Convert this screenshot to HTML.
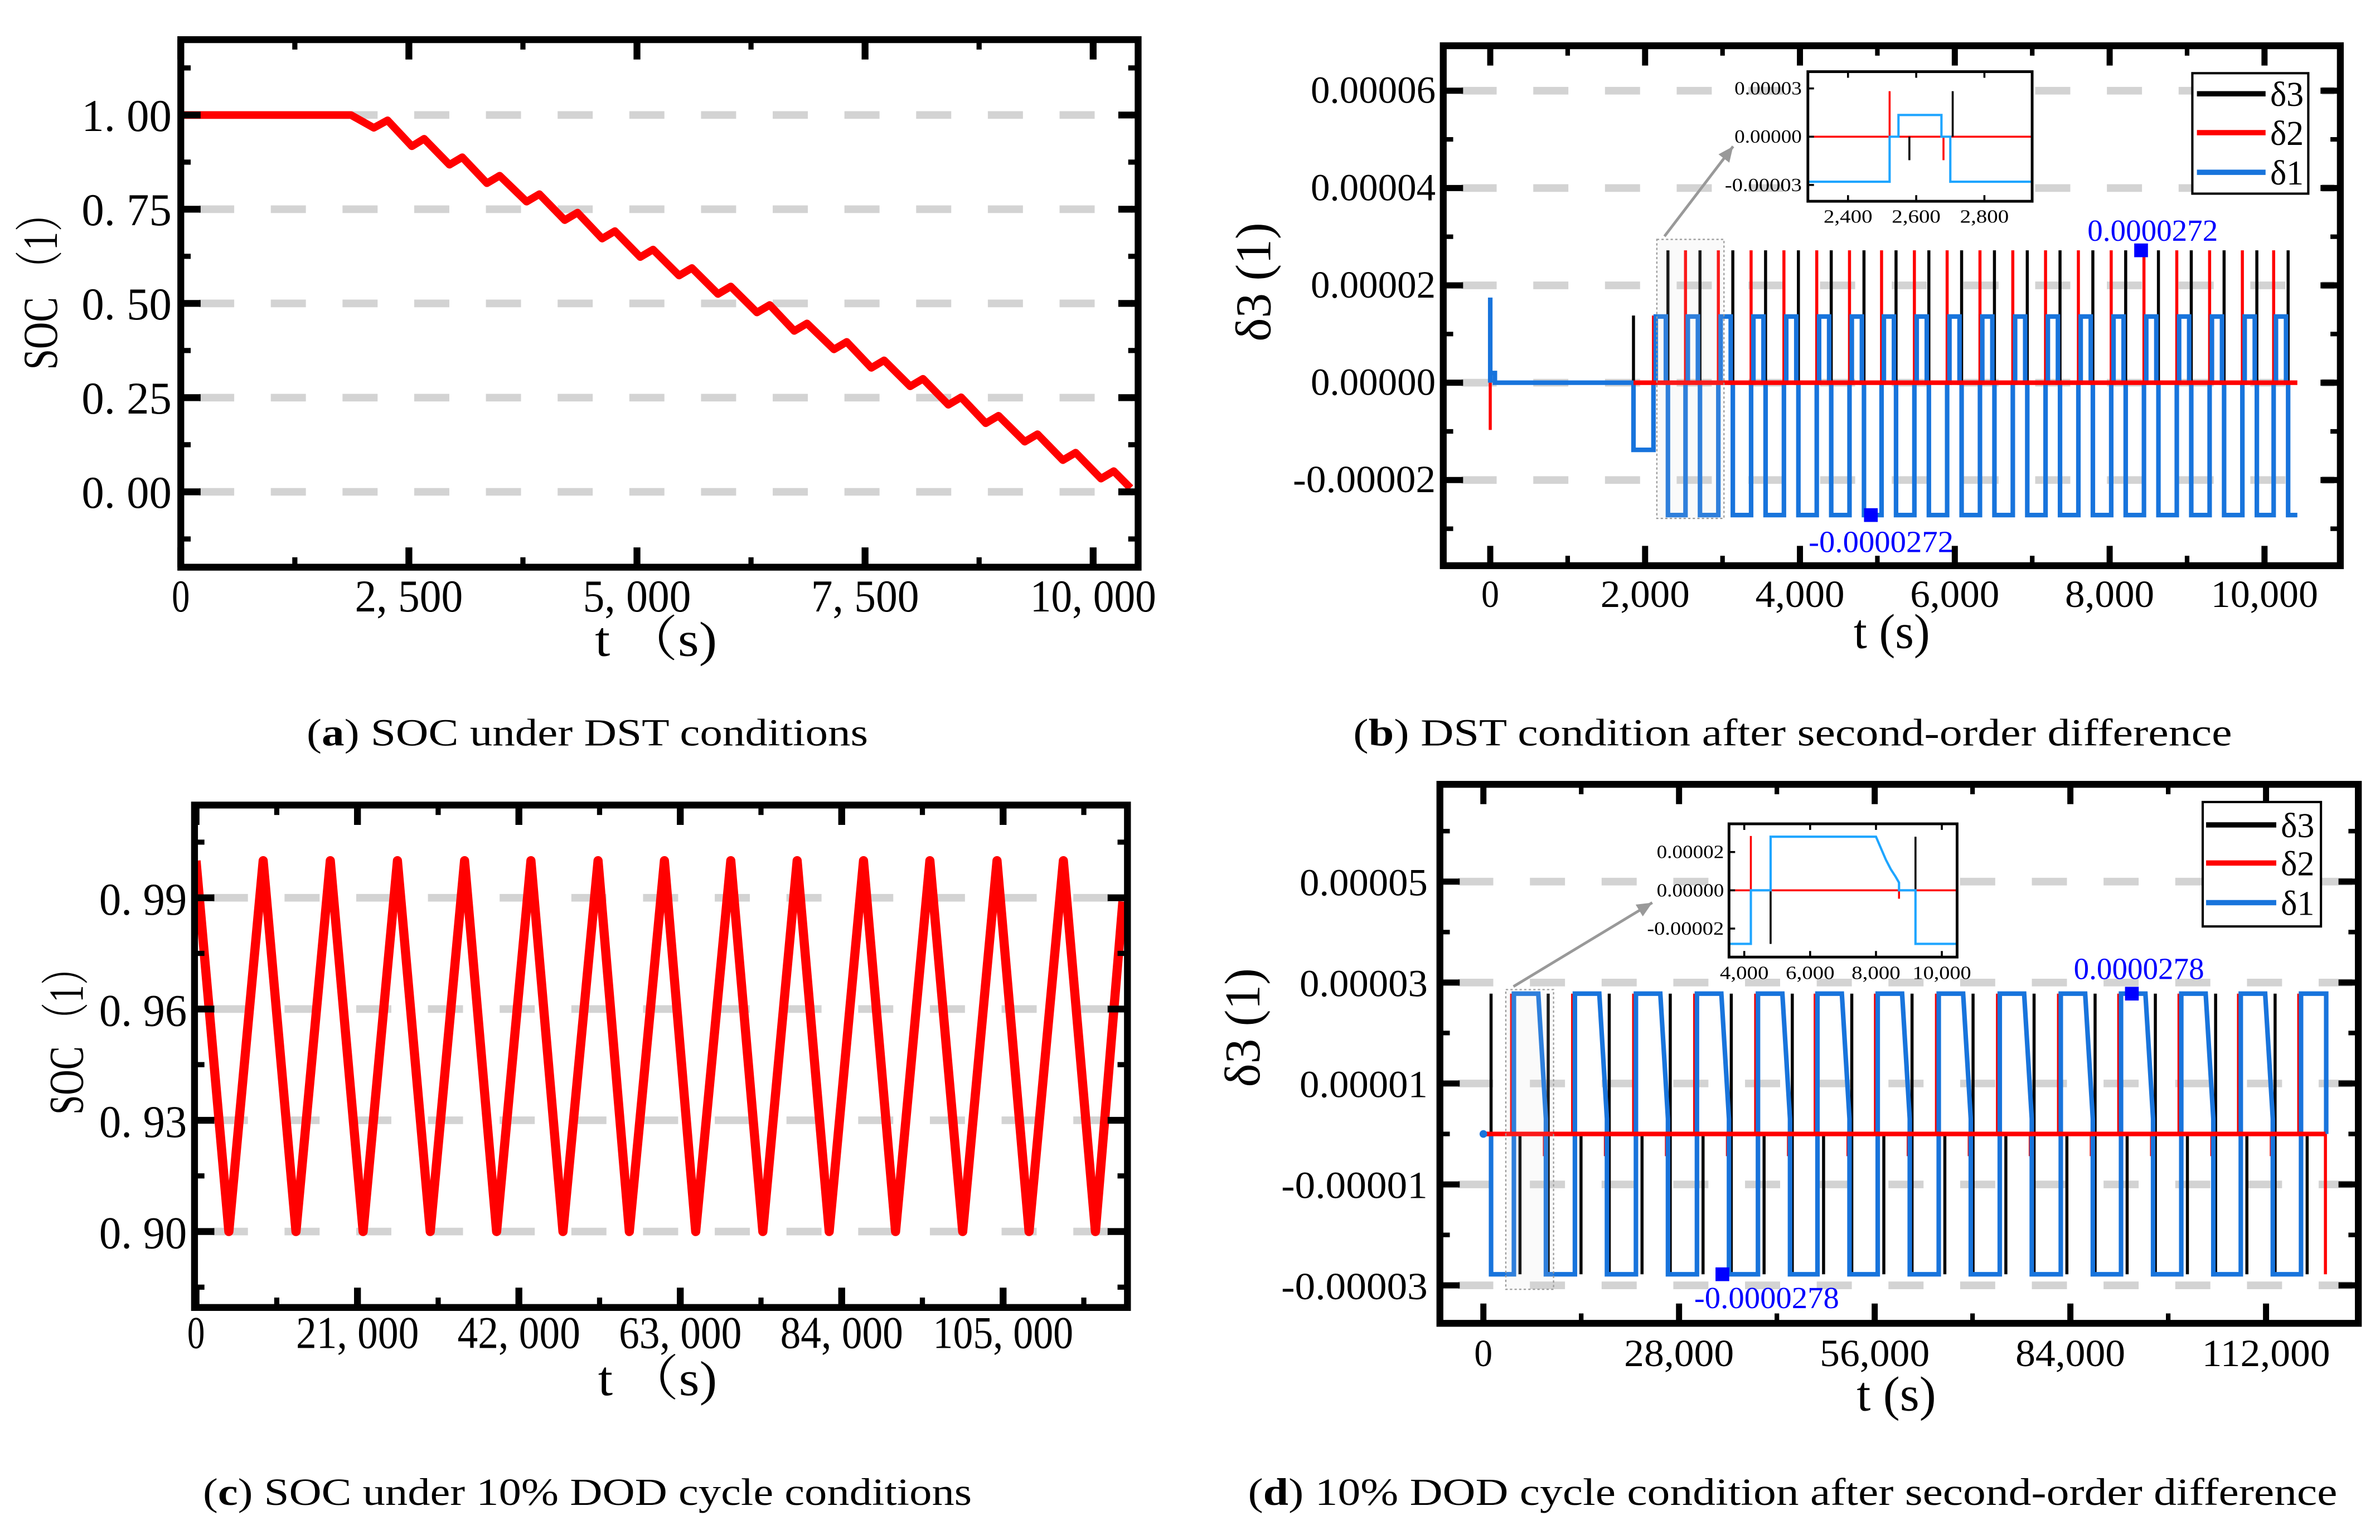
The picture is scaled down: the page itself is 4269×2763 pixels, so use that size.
<!DOCTYPE html>
<html><head><meta charset="utf-8"><style>
html,body{margin:0;padding:0;background:#fff;}
svg{display:block;}
text{font-family:"Liberation Serif","Noto Serif CJK SC",serif;white-space:pre;}
</style></head><body>
<svg id="fig" xmlns="http://www.w3.org/2000/svg" width="4269" height="2763" viewBox="0 0 1560 1010" preserveAspectRatio="none">
<rect x="0" y="0" width="1560" height="1010" fill="#fff"/>
<g id="pa"></g>
<g id="pb"></g>
<g id="pc"></g>
<g id="pd"></g>
<text x="30" y="185" transform="rotate(-90 30 185)" font-size="32" text-anchor="middle" dominant-baseline="middle" textLength="115" lengthAdjust="spacingAndGlyphs">SOC （1）</text>
<text x="430" y="430" font-size="32" text-anchor="middle" textLength="80" lengthAdjust="spacingAndGlyphs">t （s)</text>
<text x="385" y="489" font-size="25" text-anchor="middle" textLength="368" lengthAdjust="spacingAndGlyphs">(<tspan font-weight="bold">a</tspan>) SOC under DST conditions</text>
<text x="825" y="185" transform="rotate(-90 825 185)" font-size="33" text-anchor="middle" dominant-baseline="middle" textLength="78" lengthAdjust="spacingAndGlyphs">δ3 (1)</text>
<text x="1240" y="425" font-size="32" text-anchor="middle" textLength="50" lengthAdjust="spacingAndGlyphs">t (s)</text>
<text x="1175" y="489" font-size="25" text-anchor="middle" textLength="576" lengthAdjust="spacingAndGlyphs">(<tspan font-weight="bold">b</tspan>) DST condition after second-order difference</text>
<text x="47" y="677" transform="rotate(-90 47 677)" font-size="32" text-anchor="middle" dominant-baseline="middle" textLength="108" lengthAdjust="spacingAndGlyphs">SOC （1）</text>
<text x="431" y="915" font-size="32" text-anchor="middle" textLength="78" lengthAdjust="spacingAndGlyphs">t （s)</text>
<text x="385" y="987" font-size="25" text-anchor="middle" textLength="504" lengthAdjust="spacingAndGlyphs">(<tspan font-weight="bold">c</tspan>) SOC under 10% DOD cycle conditions</text>
<text x="818" y="674" transform="rotate(-90 818 674)" font-size="33" text-anchor="middle" dominant-baseline="middle" textLength="78" lengthAdjust="spacingAndGlyphs">δ3 (1)</text>
<text x="1243" y="925" font-size="32" text-anchor="middle" textLength="52" lengthAdjust="spacingAndGlyphs">t (s)</text>
<text x="1175" y="987" font-size="25" text-anchor="middle" textLength="714" lengthAdjust="spacingAndGlyphs">(<tspan font-weight="bold">d</tspan>) 10% DOD cycle condition after second-order difference</text>
</svg>
<script>
// ---------- Panel a data ----------
const a_time = [0,1865,2115,2266,2533,2667,2945,3085,3355,3495,3790,3930,4208,4348,4618,4758,5036,5176,5462,5602,5888,6028,6315,6455,6724,6864,7159,7299,7569,7709,7995,8135,8413,8553,8823,8963,9250,9390,9668,9808,10086,10226,10410];
const a_soc = [1.0,1.0,0.966,0.986,0.917,0.937,0.868,0.888,0.819,0.839,0.770,0.790,0.721,0.741,0.672,0.692,0.623,0.643,0.574,0.594,0.525,0.545,0.476,0.496,0.427,0.447,0.378,0.398,0.329,0.349,0.280,0.300,0.231,0.251,0.182,0.202,0.133,0.153,0.084,0.104,0.035,0.055,0.010];
const a_xTicks = [0,2500,5000,7500,10000];
const a_xTickLabels = ["0","2, 500","5, 000","7, 500","10, 000"];
const a_xMinor = [1250,3750,6250,8750];
const a_yTicks = [0,0.25,0.5,0.75,1.0];
const a_yTickLabels = ["0. 00","0. 25","0. 50","0. 75","1. 00"];
const a_yMinor = [-0.125,0.125,0.375,0.625,0.875,1.125];

// ---------- Panel b data (values in 1e-5) ----------
const b_preT = [0,0,0,60,60,1850,1850];
const b_preV = [0,1.75,0.2,0.2,0,0,-1.38];
const b_hiStart = [2108,2522,2946,3369,3793,4217,4640,5054,5478,5901,6325,6749,7172,7596,8020,8443,8867,9291,9714,10118];
const b_hiUp = [2138,2552,2976,3399,3823,4247,4670,5084,5508,5931,6355,6779,7202,7626,8050,8473,8897,9321,9744,10148];
const b_hiEnd = [2268,2682,3106,3529,3953,4377,4800,5214,5638,6061,6485,6909,7332,7756,8180,8603,9027,9451,9874,10278];
const b_loStart = [2295,2709,3133,3556,3980,4404,4827,5241,5665,6088,6512,6936,7359,7783,8207,8630,9054,9478,9901,10305];
const b_hiLevel = [1.36,1.36,1.36,1.36,1.36,1.36,1.36,1.36,1.36,1.36,1.36,1.36,1.36,1.36,1.36,1.36,1.36,1.36,1.36,1.36];
const b_loLevel = [-2.72,-2.72,-2.72,-2.72,-2.72,-2.72,-2.72,-2.72,-2.72,-2.72,-2.72,-2.72,-2.72,-2.72,-2.72,-2.72,-2.72,-2.72,-2.72,-2.72];
const b_endT = 10424;
const b_redTop = [1.38,2.72,2.72,2.72,2.72,2.72,2.72,2.72,2.72,2.72,2.72,2.72,2.72,2.72,2.72,2.72,2.72,2.72,2.72,2.72];
const b_blackT = [1850,2295,2709,3133,3556,3980,4404,4827,5241,5665,6088,6512,6936,7359,7783,8207,8630,9054,9478,9901,10305];
const b_blackTop = [1.38,2.72,2.72,2.72,2.72,2.72,2.72,2.72,2.72,2.72,2.72,2.72,2.72,2.72,2.72,2.72,2.72,2.72,2.72,2.72,2.72];
const b_blackBot = [0,-1.38,-1.38,-1.38,-1.38,-1.38,-1.38,-1.38,-1.38,-1.38,-1.38,-1.38,-1.38,-1.38,-1.38,-1.38,-1.38,-1.38,-1.38,-1.38,-1.38];
const b_markT = [8406,4916];
const b_markV = [2.72,-2.72];
const b_markLabels = ["0.0000272","-0.0000272"];
const b_xTicks = [0,2000,4000,6000,8000,10000];
const b_xTickLabels = ["0","2,000","4,000","6,000","8,000","10,000"];
const b_xMinor = [1000,3000,5000,7000,9000];
const b_yTicks = [-2,0,2,4,6];
const b_yTickLabels = ["-0.00002","0.00000","0.00002","0.00004","0.00006"];
const b_yMinor = [-3,-1,1,3,5];
// inset b
const bi_blueT = [2283,2522,2522,2548,2548,2674,2674,2700,2700,2941];
const bi_blueV = [-2.8,-2.8,0,0,1.35,1.35,0,0,-2.8,-2.8];
const bi_redSpikeT = [2522,2680];
const bi_redSpikeV = [2.83,-1.46];
const bi_blackSpikeT = [2580,2707];
const bi_blackSpikeV = [-1.46,2.83];
const bi_xTicks = [2400,2600,2800];
const bi_xTickLabels = ["2,400","2,600","2,800"];
const bi_yTicks = [-3,0,3];
const bi_yTickLabels = ["-0.00003","0.00000","0.00003"];

// ---------- Panel c data ----------
const c_time = [0,4267,8734,13001,17467,21734,26200,30468,34934,39102,43568,47736,52302,56370,60936,65004,69570,73738,78204,82372,86838,91006,95472,99740,104206,108374,112840,117008,120580];
const c_soc = [1.0,0.90,1.0,0.90,1.0,0.90,1.0,0.90,1.0,0.90,1.0,0.90,1.0,0.90,1.0,0.90,1.0,0.90,1.0,0.90,1.0,0.90,1.0,0.90,1.0,0.90,1.0,0.90,0.989];
const c_xTicks = [0,21000,42000,63000,84000,105000];
const c_xTickLabels = ["0","21, 000","42, 000","63, 000","84, 000","105, 000"];
const c_xMinor = [10500,31500,52500,73500,94500,115500];
const c_yTicks = [0.90,0.93,0.96,0.99];
const c_yTickLabels = ["0. 90","0. 93","0. 96","0. 99"];
const c_yMinor = [0.885,0.915,0.945,0.975,1.005];

// ---------- Panel d data (values in 1e-5) ----------
const d_hiStart = [4366,13098,21830,30562,39294,47808,56431,65163,73895,82627,91250,99873,108386,117009];
const d_hiEnd = [7856,16588,25320,34052,42784,51298,59921,68653,77385,86117,94740,103363,111876,120611];
const d_drop = [8950,17682,26414,35146,43878,52392,61015,69747,78479,87211,95834,104457,112970];
const d_firstDrop = 1100;
const d_high = 2.78;
const d_low = -2.78;
const d_slopeEnd = 0.3;
const d_redDown = -0.44;
const d_redEndT = 120500;
const d_markT = [92800,34200];
const d_markV = [2.78,-2.78];
const d_markLabels = ["0.0000278","-0.0000278"];
const d_xTicks = [0,28000,56000,84000,112000];
const d_xTickLabels = ["0","28,000","56,000","84,000","112,000"];
const d_xMinor = [14000,42000,70000,98000];
const d_yTicks = [-3,-1,1,3,5];
const d_yTickLabels = ["-0.00003","-0.00001","0.00001","0.00003","0.00005"];
const d_yMinor = [-2,0,2,4,6];
// inset d
const di_blueT = [3538,4200,4200,4800,4800,8000,8150,8300,8450,8600,8700,8700,9200,9200,10458];
const di_blueV = [-2.8,-2.8,0,0,2.8,2.8,2.2,1.6,1.1,0.7,0.4,0,0,-2.8,-2.8];
const di_redSpikeT = [4200,8700];
const di_redSpikeV = [2.84,-0.44];
const di_blackSpikeT = [4800,9200];
const di_blackSpikeV = [-2.8,2.8];
const di_xTicks = [4000,6000,8000,10000];
const di_xTickLabels = ["4,000","6,000","8,000","10,000"];
const di_yTicks = [-2,0,2];
const di_yTickLabels = ["-0.00002","0.00000","0.00002"];

// ---------- helpers ----------
const NS = 'http://www.w3.org/2000/svg';
function mk(tag, parent, attrs){
  const e = document.createElementNS(NS, tag);
  for (const k in attrs) e.setAttribute(k, attrs[k]);
  parent.appendChild(e);
  return e;
}
function scale(d0,d1,p0,p1){ return v => p0 + (v-d0)/(d1-d0)*(p1-p0); }
function pathFrom(ts, vs, sx, sy){
  let d = '';
  for (let i=0;i<ts.length;i++) d += (i?'L':'M') + sx(ts[i]).toFixed(2) + ' ' + sy(vs[i]).toFixed(2);
  return d;
}
function grid(g, P, sy, yt, startOff){
  yt.forEach(v => {
    const l = mk('line', g, {x1:P.x0+startOff, x2:P.x1-4, y1:sy(v), y2:sy(v), stroke:'#d3d3d3', 'stroke-width':5, 'stroke-dasharray':'23 24'});
    
    
  });
}
function frameAxes(g, P, sx, sy, o){
  const fr = mk('rect', g, {x:P.x0, y:P.y0, width:P.x1-P.x0, height:P.y1-P.y0, fill:'none', stroke:'#000', 'stroke-width':o.fw});
  
  
  const tk = (x1,y1,x2,y2,w,nm) => {
    const l = mk('line', g, {x1:x1,y1:y1,x2:x2,y2:y2,stroke:'#000','stroke-width':w});
    
    
  };
  o.xt.forEach(v => { const x=sx(v); tk(x,P.y1,x,P.y1-o.maj,o.tw,'x-major-tick'); tk(x,P.y0,x,P.y0+o.maj,o.tw,'x-major-tick-top'); });
  o.xm.forEach(v => { const x=sx(v); tk(x,P.y1,x,P.y1-o.min,o.tw*0.75,'x-minor-tick'); tk(x,P.y0,x,P.y0+o.min,o.tw*0.75,'x-minor-tick-top'); });
  o.yt.forEach(v => { const y=sy(v); tk(P.x0,y,P.x0+o.maj,y,o.tw,'y-major-tick'); tk(P.x1,y,P.x1-o.maj,y,o.tw,'y-major-tick-right'); });
  o.ym.forEach(v => { const y=sy(v); tk(P.x0,y,P.x0+o.min,y,o.tw*0.75,'y-minor-tick'); tk(P.x1,y,P.x1-o.min,y,o.tw*0.75,'y-minor-tick-right'); });
  o.xt.forEach((v,i) => {
    const s = o.xl[i];
    const t = mk('text', g, {x:sx(v), y:o.xly, 'font-size':o.fs, 'text-anchor':'middle', textLength:(s.length*o.cw).toFixed(1), lengthAdjust:'spacingAndGlyphs'});
    t.textContent = s;
    
    
  });
  o.yt.forEach((v,i) => {
    const s = o.yl[i];
    const t = mk('text', g, {x:o.ylx, y:sy(v)+o.yldy, 'font-size':o.fs, 'text-anchor':'end', textLength:(s.length*o.cw).toFixed(1), lengthAdjust:'spacingAndGlyphs'});
    t.textContent = s;
    
    
  });
}
function vline(g, x, y1, y2, color, w, nm){
  const l = mk('line', g, {x1:x, x2:x, y1:y1, y2:y2, stroke:color, 'stroke-width':w});
  
  
  return l;
}
function legend(g, box, ys, lx0, lx1, tx){
  const r = mk('rect', g, {x:box.x0, y:box.y0, width:box.x1-box.x0, height:box.y1-box.y0, fill:'#fff', stroke:'#000', 'stroke-width':1.5});
  
  
  const names = ['δ3','δ2','δ1'], cols = ['#000','#ff0000','#1874dc'];
  names.forEach((n,i) => {
    const l = mk('line', g, {x1:lx0, x2:lx1, y1:ys[i], y2:ys[i], stroke:cols[i], 'stroke-width':3.5});
    
    
    const t = mk('text', g, {x:tx, y:ys[i]+8, 'font-size':23, textLength:22, lengthAdjust:'spacingAndGlyphs'});
    t.textContent = n;
    
    
  });
}
function inset(g, B, sx, sy, o){
  const bg = mk('rect', g, {x:B.x0, y:B.y0, width:B.x1-B.x0, height:B.y1-B.y0, fill:'#fff', stroke:'none'});
  
  
  const z = mk('line', g, {x1:B.x0, x2:B.x1, y1:sy(0), y2:sy(0), stroke:'#ff0000', 'stroke-width':1.3});
  
  
  o.rt.forEach((t,i) => vline(g, sx(t), sy(0), sy(o.rv[i]), '#ff0000', 1.3, 'inset-delta2-spike'));
  o.kt.forEach((t,i) => vline(g, sx(t), sy(0), sy(o.kv[i]), '#000', 1.3, 'inset-delta3-spike'));
  const p = mk('path', g, {d:pathFrom(o.bt, o.bv, sx, sy), fill:'none', stroke:'#1ea5ff', 'stroke-width':1.5});
  
  
  const fr = mk('rect', g, {x:B.x0, y:B.y0, width:B.x1-B.x0, height:B.y1-B.y0, fill:'none', stroke:'#000', 'stroke-width':1.8});
  
  
  o.xt.forEach((v,i) => {
    vline(g, sx(v), B.y1, B.y1-4, '#000', 1.3, 'inset-x-tick');
    vline(g, sx(v), B.y0, B.y0+4, '#000', 1.3, 'inset-x-tick-top');
    const t = mk('text', g, {x:sx(v), y:o.xly, 'font-size':12.5, 'text-anchor':'middle', textLength:(o.xl[i].length*6.4).toFixed(1), lengthAdjust:'spacingAndGlyphs'});
    t.textContent = o.xl[i];
    
    
  });
  o.yt.forEach((v,i) => {
    const l = mk('line', g, {x1:B.x0, x2:B.x0+4, y1:sy(v), y2:sy(v), stroke:'#000', 'stroke-width':1.3});
    
    
    const t = mk('text', g, {x:o.ylx, y:sy(v)+4, 'font-size':12.5, 'text-anchor':'end', textLength:(o.yl[i].length*6.3).toFixed(1), lengthAdjust:'spacingAndGlyphs'});
    t.textContent = o.yl[i];
    
    
  });
}
function zoomCue(g, r, a){
  const rc = mk('rect', g, {x:r[0], y:r[1], width:r[2]-r[0], height:r[3]-r[1], fill:'rgba(210,210,210,0.12)', stroke:'#999', 'stroke-width':0.8, 'stroke-dasharray':'1.5 1.5'});
  
  
  const l = mk('line', g, {x1:a[0], y1:a[1], x2:a[2], y2:a[3], stroke:'#999', 'stroke-width':1.8});
  
  
  const ang = Math.atan2(a[3]-a[1], a[2]-a[0]), L=10, W=4.5;
  const bx=a[2]-L*Math.cos(ang), by=a[3]-L*Math.sin(ang);
  const pts = [a[2],a[3], bx-W*Math.sin(ang), by+W*Math.cos(ang), bx+W*Math.sin(ang), by-W*Math.cos(ang)];
  const h = mk('polygon', g, {points:pts.map(v=>v.toFixed(1)).join(' '), fill:'#999'});
  
  
}
function markers(g, ts, vs, labs, sx, sy, lpos){
  ts.forEach((t,i) => {
    const r = mk('rect', g, {x:sx(t)-4.5, y:sy(vs[i])-4.5, width:9, height:9, fill:'#0000ff'});
    
    
    const tx = mk('text', g, {x:lpos[i][0], y:lpos[i][1], 'font-size':20, 'text-anchor':'middle', fill:'#0000ff', textLength:(labs[i].length*9.5).toFixed(1), lengthAdjust:'spacingAndGlyphs'});
    tx.textContent = labs[i];
    
    
  });
}

// ---------- Panel a ----------
(function(){
  const g = document.getElementById('pa');
  const P = {x0:118.5, x1:746, y0:26, y1:372};
  const sx = scale(0,10493,P.x0,P.x1), sy = scale(-0.2,1.2,P.y1,P.y0);
  grid(g, P, sy, a_yTicks, 12);
  const p = mk('path', g, {d:pathFrom(a_time,a_soc,sx,sy), fill:'none', stroke:'#ff0000', 'stroke-width':5, 'stroke-linejoin':'round'});
  
  
  frameAxes(g, P, sx, sy, {fw:4.5, tw:4.5, maj:13, min:6.5, xt:a_xTicks, xm:a_xMinor, yt:a_yTicks, ym:a_yMinor, xl:a_xTickLabels, yl:a_yTickLabels, xly:401, ylx:112.5, yldy:10.5, fs:30, cw:11.8});
})();

// ---------- Panel b ----------
(function(){
  const g = document.getElementById('pb');
  const P = {x0:946, x1:1534, y0:30, y1:371};
  const sx = scale(0,10000,976.8,1484.3), sy = scale(0,6,251,59.5);
  grid(g, P, sy, b_yTicks, 12);
  b_blackT.forEach((t,i) => vline(g, sx(t), sy(b_blackBot[i]), sy(b_blackTop[i]), '#000', 2, 'delta3-spike'));
  b_hiStart.forEach((t,i) => vline(g, sx(t), sy(-1.38), sy(b_redTop[i]), '#ff0000', 2, 'delta2-spike'));
  vline(g, sx(0), sy(0), sy(-0.97), '#ff0000', 2, 'delta2-initial-spike');
  const ts = b_preT.slice(), vs = b_preV.slice();
  let prev = b_preV[b_preV.length-1];
  b_hiStart.forEach((t,i) => {
    ts.push(t, t, b_hiUp[i], b_hiUp[i], b_hiEnd[i], b_hiEnd[i], b_loStart[i], b_loStart[i]);
    vs.push(prev, 0, 0, b_hiLevel[i], b_hiLevel[i], 0, 0, b_loLevel[i]);
    prev = b_loLevel[i];
  });
  ts.push(b_endT); vs.push(prev);
  const bl = mk('path', g, {d:pathFrom(ts,vs,sx,sy), fill:'none', stroke:'#1874dc', 'stroke-width':3, 'stroke-linejoin':'miter'});
  
  
  const rz = mk('line', g, {x1:sx(1850), x2:sx(b_endT), y1:sy(0), y2:sy(0), stroke:'#ff0000', 'stroke-width':3});
  
  
  zoomCue(g, [1086,157,1130,340], [1091,155,1136,96]);
  markers(g, b_markT, b_markV, b_markLabels, sx, sy, [[1411,158],[1233,362]]);
  frameAxes(g, P, sx, sy, {fw:4.5, tw:4, maj:13, min:6.5, xt:b_xTicks, xm:b_xMinor, yt:b_yTicks, ym:b_yMinor, xl:b_xTickLabels, yl:b_yTickLabels, xly:398, ylx:941, yldy:8, fs:25, cw:11.7});
  const B = {x0:1185, x1:1332, y0:47, y1:132};
  inset(g, B, scale(2400,2800,1211.3,1300.7), scale(-3,3,121.3,58), {bt:bi_blueT, bv:bi_blueV, rt:bi_redSpikeT, rv:bi_redSpikeV, kt:bi_blackSpikeT, kv:bi_blackSpikeV, xt:bi_xTicks, xl:bi_xTickLabels, yt:bi_yTicks, yl:bi_yTickLabels, xly:146, ylx:1181});
  legend(g, {x0:1437, x1:1513, y0:48, y1:127}, [61.5,87,113], 1440, 1485, 1488);
})();

// ---------- Panel c ----------
(function(){
  const g = document.getElementById('pc');
  const P = {x0:127.5, x1:739, y0:528, y1:857.5};
  const sx = scale(0,21000,128.5,234.3), sy = scale(0.90,0.99,807.7,588.8);
  grid(g, P, sy, c_yTicks, 12);
  const p = mk('path', g, {d:pathFrom(c_time,c_soc,sx,sy), fill:'none', stroke:'#ff0000', 'stroke-width':6, 'stroke-linejoin':'round'});
  
  
  frameAxes(g, P, sx, sy, {fw:4.5, tw:4.5, maj:13, min:6.5, xt:c_xTicks, xm:c_xMinor, yt:c_yTicks, ym:c_yMinor, xl:c_xTickLabels, yl:c_yTickLabels, xly:884, ylx:122.5, yldy:11, fs:30, cw:11.5});
})();

// ---------- Panel d ----------
(function(){
  const g = document.getElementById('pd');
  const P = {x0:943.8, x1:1545.8, y0:514.4, y1:867.9};
  const sx = scale(0,28000,972.3,1100.55), sy = scale(-3,5,843,578.2);
  grid(g, P, sy, d_yTicks, 12);
  vline(g, sx(d_firstDrop), sy(d_low), sy(d_high), '#000', 2, 'delta3-spike');
  d_drop.forEach(t => vline(g, sx(t)+1.5, sy(d_low), sy(d_high), '#000', 2, 'delta3-spike'));
  d_hiStart.forEach(t => vline(g, sx(t)+4, sy(d_low), sy(0), '#000', 2, 'delta3-spike'));
  d_hiStart.forEach(t => vline(g, sx(t)-1.5, sy(0), sy(d_high), '#ff0000', 2, 'delta2-spike'));
  d_drop.forEach(t => vline(g, sx(t)-1, sy(0), sy(d_redDown), '#ff0000', 2, 'delta2-spike'));
  vline(g, sx(d_redEndT), sy(0), sy(d_low), '#ff0000', 2, 'delta2-final-drop');
  const ts = [0, d_firstDrop, d_firstDrop], vs = [0, 0, d_low];
  d_hiStart.forEach((t,i) => {
    ts.push(t, t, d_hiEnd[i]); vs.push(d_low, d_high, d_high);
    if (i < d_drop.length) { ts.push(d_drop[i], d_drop[i]); vs.push(d_slopeEnd, d_low); }
    else { ts.push(d_hiEnd[i]); vs.push(0); }
  });
  const bl = mk('path', g, {d:pathFrom(ts,vs,sx,sy), fill:'none', stroke:'#1874dc', 'stroke-width':3});
  
  
  const rz = mk('line', g, {x1:sx(0), x2:sx(d_redEndT), y1:sy(0), y2:sy(0), stroke:'#ff0000', 'stroke-width':3});
  
  
  const st = mk('circle', g, {cx:sx(0), cy:sy(0), r:2.5, fill:'#1874dc'});
  
  
  zoomCue(g, [987,649,1018.3,845.6], [992,647,1083,592]);
  markers(g, d_markT, d_markV, d_markLabels, sx, sy, [[1402,642],[1158,858]]);
  frameAxes(g, P, sx, sy, {fw:4.5, tw:4, maj:13, min:6.5, xt:d_xTicks, xm:d_xMinor, yt:d_yTicks, ym:d_yMinor, xl:d_xTickLabels, yl:d_yTickLabels, xly:896, ylx:935.8, yldy:9, fs:25, cw:12});
  const B = {x0:1133.3, x1:1282.8, y0:540.3, y1:627.7};
  inset(g, B, scale(4000,10000,1143.3,1272.8), scale(-2,2,609,558.8), {bt:di_blueT, bv:di_blueV, rt:di_redSpikeT, rv:di_redSpikeV, kt:di_blackSpikeT, kv:di_blackSpikeV, xt:di_xTicks, xl:di_xTickLabels, yt:di_yTicks, yl:di_yTickLabels, xly:642, ylx:1130});
  legend(g, {x0:1443.8, x1:1521.3, y0:526, y1:607.6}, [541,566,592], 1446, 1492, 1495);
})();
</script>
</body></html>
